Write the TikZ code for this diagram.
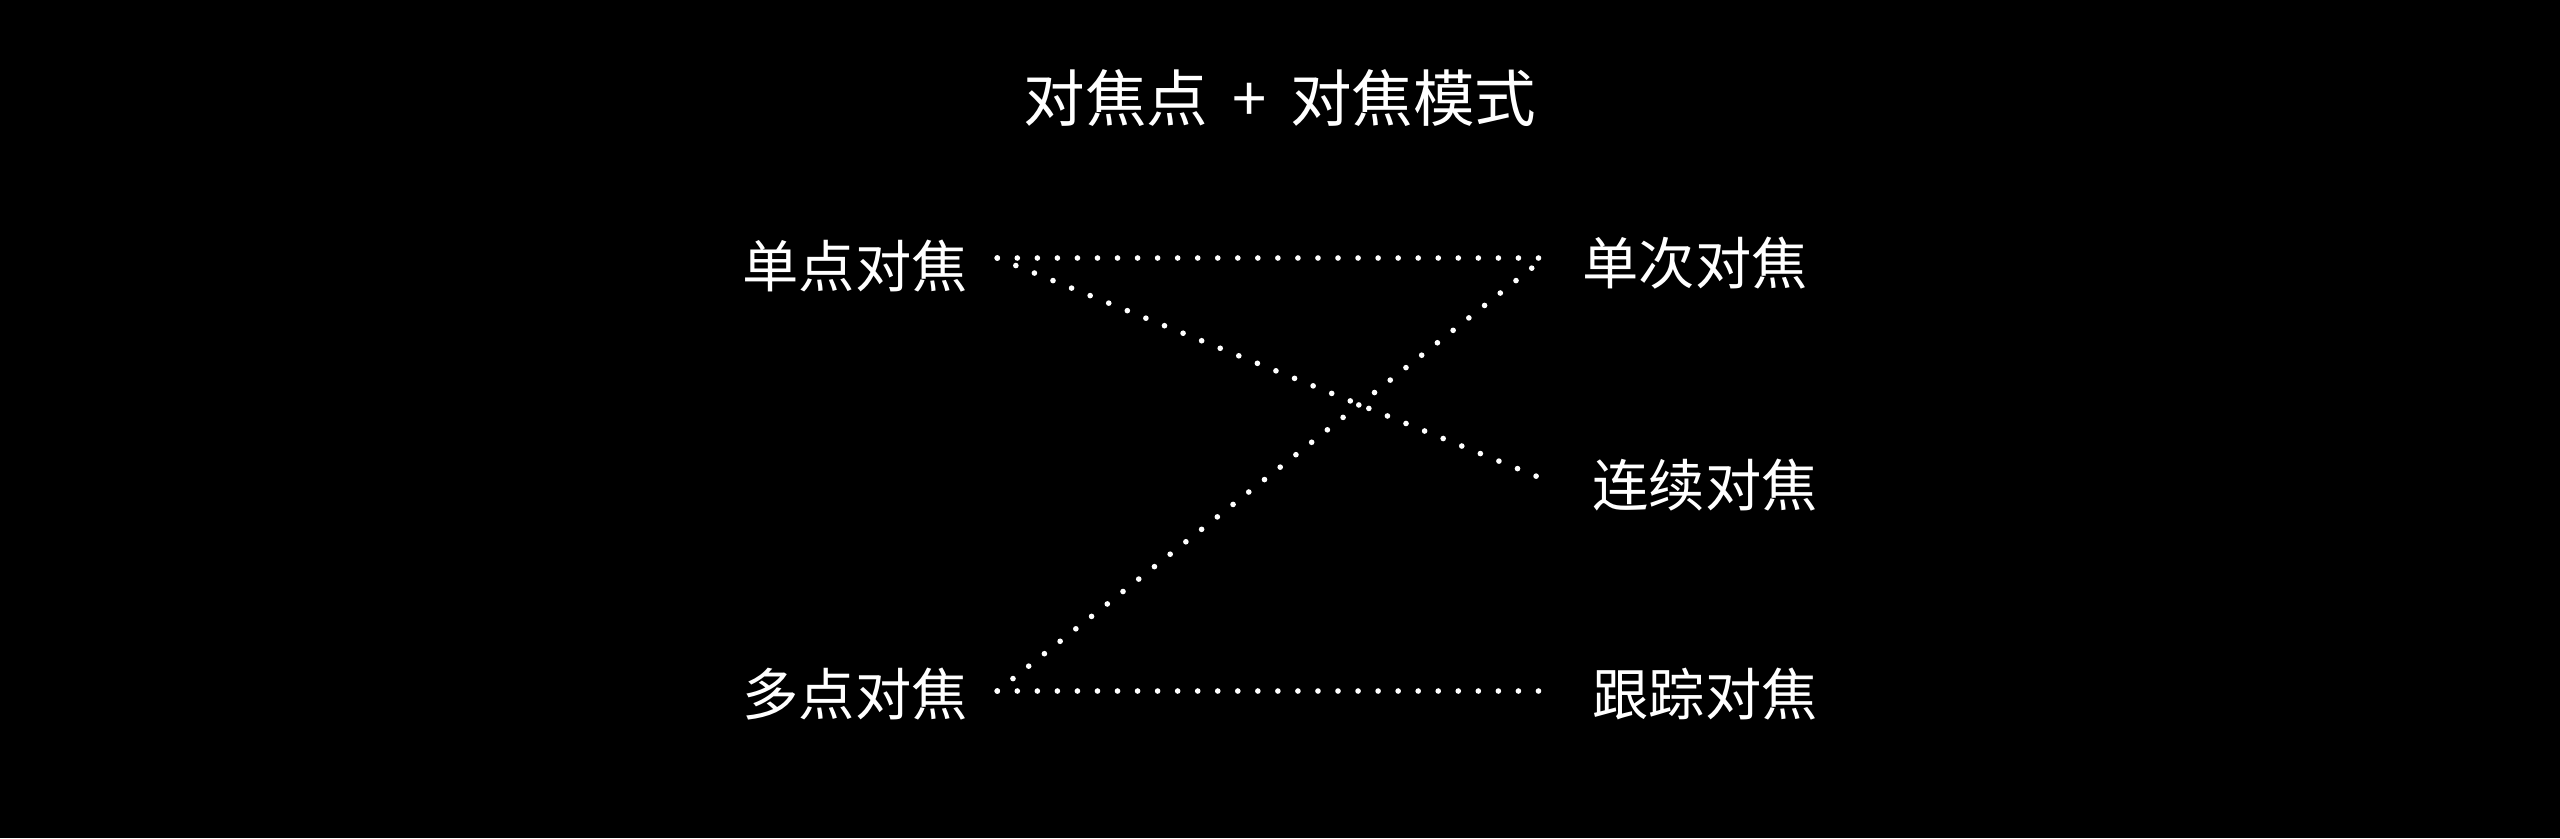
\documentclass[tikz,border=0pt]{standalone}
\usepackage{fontspec}
\newfontfamily\cjkfont{Noto Sans CJK SC}

\begin{document}
\begin{tikzpicture}[x=0.01cm,y=-0.01cm,
    mode/.style ={text=white, inner sep=0pt, font=\cjkfont\fontsize{16}{18}\selectfont},
    heading/.style ={text=white, inner sep=0pt, font=\cjkfont\fontsize{17.5}{20}\selectfont},
    link/.style ={white, line width=1.6pt, line cap=round, dash pattern=on 0pt off 5.7pt}]
   \fill[black] (0,0) rectangle (2560,838);
   \node[heading] (T) at (1280,98)  {对焦点 \,+\, 对焦模式};
   \node[mode] (A) at (855,266)  {单点对焦};
   \node[mode] (B) at (855,694)  {多点对焦};
   \node[mode] (C) at (1695,263)  {单次对焦};
   \node[mode] (D) at (1705,485)  {连续对焦};
   \node[mode] (E) at (1705,694)  {跟踪对焦};
   
   \draw[link] ([xshift=0.29cm,yshift=0.08cm]A.east) to ([xshift=-0.41cm,yshift=0.05cm]C.west);
   \draw[link] ([xshift=0.29cm,yshift=0.08cm]A.east) to ([xshift=-0.51cm,yshift=0.07cm]D.west);
   \draw[link] ([xshift=0.29cm,yshift=0.03cm]B.east) to ([xshift=-0.41cm,yshift=0.02cm]C.west);
   \draw[link] ([xshift=0.29cm,yshift=0.03cm]B.east) to ([xshift=-0.51cm,yshift=0.03cm]E.west);
 \end{tikzpicture}
\end{document}
